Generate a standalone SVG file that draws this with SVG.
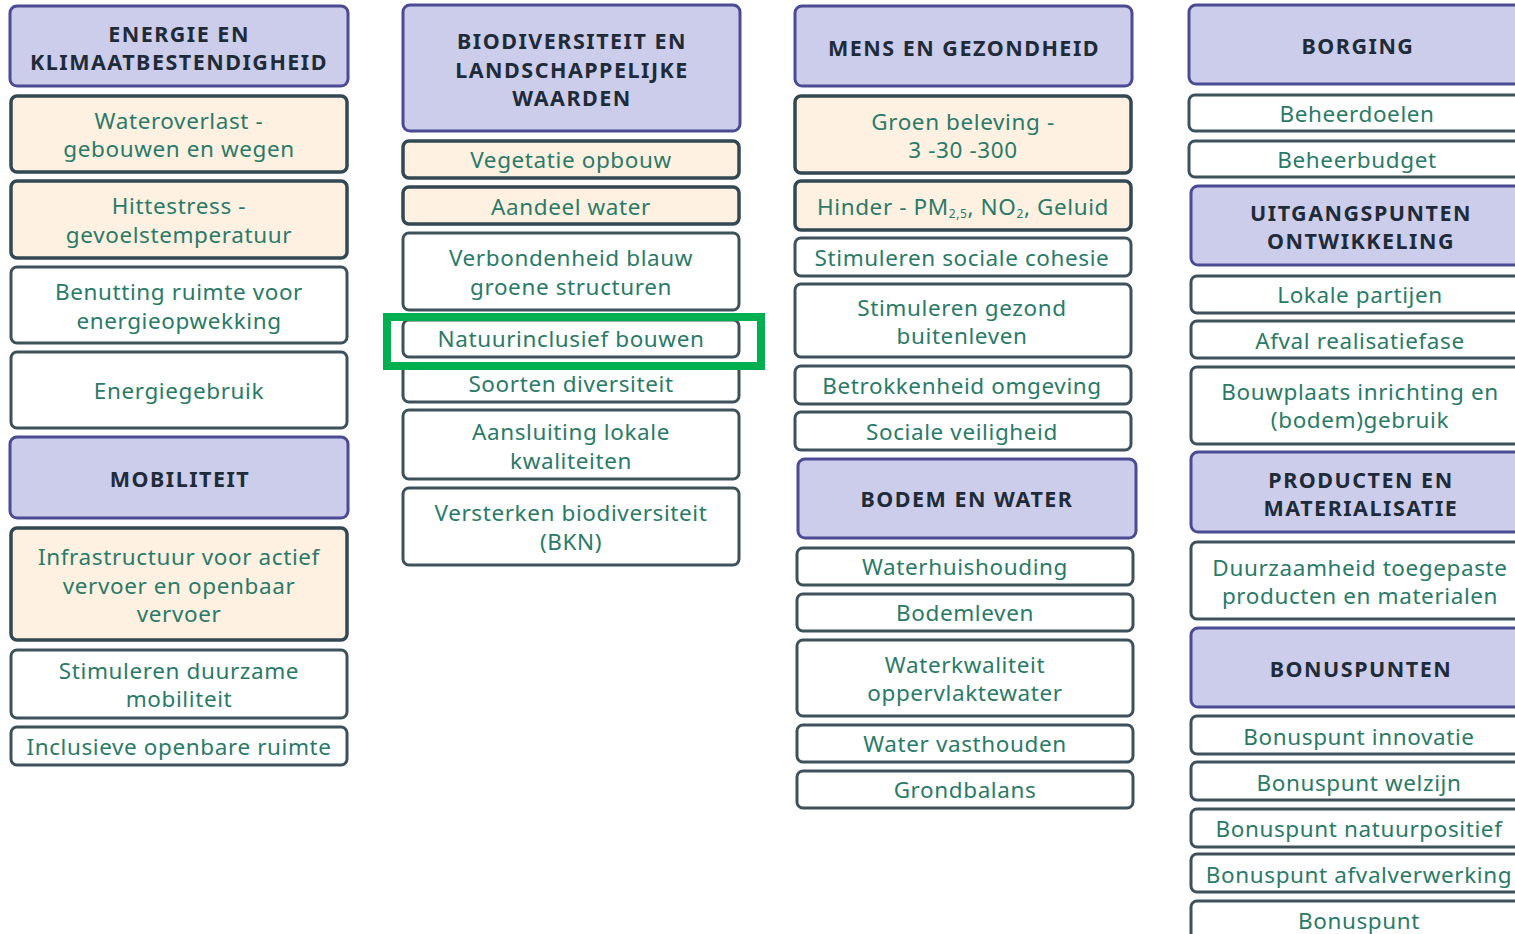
<svg xmlns="http://www.w3.org/2000/svg" width="1515" height="934" viewBox="0 0 1515 934">
<style>
rect.h{fill:#cbcdeb;stroke:#4a4b93;stroke-width:3}
rect.o{fill:#fff1e1;stroke:#334852;stroke-width:3.5}
rect.w{fill:#ffffff;stroke:#3d515b;stroke-width:3}
text{font-family:"Noto Sans","Open Sans",sans-serif;text-anchor:middle;dominant-baseline:central}
text.ht{font-size:21.5px;font-weight:bold;fill:#1f2b38;letter-spacing:1.5px}
text.t{font-size:22.5px;fill:#2b7a68;letter-spacing:0.6px}
</style>
<rect width="1515" height="934" fill="#ffffff"/>
<g id="col1">
<g id="n-energie"><rect class="h" x="10" y="6" width="338" height="80" rx="7"/><text class="ht" x="179" y="33">ENERGIE EN</text><text class="ht" x="179" y="61">KLIMAATBESTENDIGHEID</text></g>
<g id="n-wateroverlast"><rect class="o" x="11" y="96" width="336" height="76" rx="6"/><text class="t" x="179" y="120">Wateroverlast -</text><text class="t" x="179" y="148">gebouwen en wegen</text></g>
<g id="n-hittestress"><rect class="o" x="11" y="181" width="336" height="77" rx="6"/><text class="t" x="179" y="205">Hittestress -</text><text class="t" x="179" y="234">gevoelstemperatuur</text></g>
<g id="n-benutting"><rect class="w" x="11" y="267" width="336" height="76" rx="6"/><text class="t" x="179" y="291">Benutting ruimte voor</text><text class="t" x="179" y="320">energieopwekking</text></g>
<g id="n-energiegebruik"><rect class="w" x="11" y="352" width="336" height="76" rx="6"/><text class="t" x="179" y="390">Energiegebruik</text></g>
<g id="n-mobiliteit"><rect class="h" x="10" y="437" width="338" height="81" rx="7"/><text class="ht" x="180" y="478">MOBILITEIT</text></g>
<g id="n-infrastructuur"><rect class="o" x="11" y="528" width="336" height="112" rx="6"/><text class="t" x="179" y="556">Infrastructuur voor actief</text><text class="t" x="179" y="585">vervoer en openbaar</text><text class="t" x="179" y="613">vervoer</text></g>
<g id="n-duurzame-mobiliteit"><rect class="w" x="11" y="650" width="336" height="68" rx="6"/><text class="t" x="179" y="670">Stimuleren duurzame</text><text class="t" x="179" y="698">mobiliteit</text></g>
<g id="n-inclusieve"><rect class="w" x="11" y="727" width="336" height="38" rx="6"/><text class="t" x="179" y="746">Inclusieve openbare ruimte</text></g>
</g>
<g id="col2">
<g id="n-biodiversiteit"><rect class="h" x="403" y="5" width="337" height="126" rx="7"/><text class="ht" x="572" y="40">BIODIVERSITEIT EN</text><text class="ht" x="572" y="69">LANDSCHAPPELIJKE</text><text class="ht" x="572" y="97">WAARDEN</text></g>
<g id="n-vegetatie"><rect class="o" x="403" y="141" width="336" height="37" rx="6"/><text class="t" x="571" y="159">Vegetatie opbouw</text></g>
<g id="n-aandeel-water"><rect class="o" x="403" y="187" width="336" height="37" rx="6"/><text class="t" x="571" y="206">Aandeel water</text></g>
<g id="n-verbondenheid"><rect class="w" x="403" y="233" width="336" height="77" rx="6"/><text class="t" x="571" y="257">Verbondenheid blauw</text><text class="t" x="571" y="286">groene structuren</text></g>
<g id="n-natuurinclusief"><rect class="w" x="403" y="320" width="336" height="37" rx="6"/><text class="t" x="571" y="338">Natuurinclusief bouwen</text></g>
<g id="n-soorten"><rect class="w" x="403" y="365" width="336" height="37" rx="6"/><text class="t" x="571" y="383">Soorten diversiteit</text></g>
<g id="n-aansluiting"><rect class="w" x="403" y="410" width="336" height="69" rx="6"/><text class="t" x="571" y="431">Aansluiting lokale</text><text class="t" x="571" y="460">kwaliteiten</text></g>
<g id="n-versterken"><rect class="w" x="403" y="488" width="336" height="77" rx="6"/><text class="t" x="571" y="512">Versterken biodiversiteit</text><text class="t" x="571" y="541">(BKN)</text></g>
</g>
<g id="col3">
<g id="n-mens"><rect class="h" x="795" y="6" width="337" height="80" rx="7"/><text class="ht" x="964" y="47">MENS EN GEZONDHEID</text></g>
<g id="n-groen-beleving"><rect class="o" x="795" y="96" width="336" height="77" rx="6"/><text class="t" x="963" y="121">Groen beleving -</text><text class="t" x="963" y="149">3 -30 -300</text></g>
<g id="n-hinder"><rect class="o" x="795" y="181" width="336" height="49" rx="6"/><text class="t" x="963" y="206">Hinder - PM<tspan font-size="12" dy="7">2,5</tspan><tspan dy="-7">, NO</tspan><tspan font-size="12" dy="7">2</tspan><tspan dy="-7">, Geluid</tspan></text></g>
<g id="n-sociale-cohesie"><rect class="w" x="795" y="238" width="336" height="38" rx="6"/><text class="t" x="962" y="257">Stimuleren sociale cohesie</text></g>
<g id="n-gezond-buitenleven"><rect class="w" x="795" y="284" width="336" height="73" rx="6"/><text class="t" x="962" y="307">Stimuleren gezond</text><text class="t" x="962" y="335">buitenleven</text></g>
<g id="n-betrokkenheid"><rect class="w" x="795" y="366" width="336" height="38" rx="6"/><text class="t" x="962" y="385">Betrokkenheid omgeving</text></g>
<g id="n-sociale-veiligheid"><rect class="w" x="795" y="412" width="336" height="38" rx="6"/><text class="t" x="962" y="431">Sociale veiligheid</text></g>
<g id="n-bodem"><rect class="h" x="798" y="459" width="338" height="79" rx="7"/><text class="ht" x="967" y="498">BODEM EN WATER</text></g>
<g id="n-waterhuishouding"><rect class="w" x="797" y="548" width="336" height="37" rx="6"/><text class="t" x="965" y="566">Waterhuishouding</text></g>
<g id="n-bodemleven"><rect class="w" x="797" y="594" width="336" height="37" rx="6"/><text class="t" x="965" y="612">Bodemleven</text></g>
<g id="n-waterkwaliteit"><rect class="w" x="797" y="640" width="336" height="76" rx="6"/><text class="t" x="965" y="664">Waterkwaliteit</text><text class="t" x="965" y="692">oppervlaktewater</text></g>
<g id="n-water-vasthouden"><rect class="w" x="797" y="725" width="336" height="37" rx="6"/><text class="t" x="965" y="743">Water vasthouden</text></g>
<g id="n-grondbalans"><rect class="w" x="797" y="771" width="336" height="37" rx="6"/><text class="t" x="965" y="789">Grondbalans</text></g>
</g>
<g id="col4">
<g id="n-borging"><rect class="h" x="1189" y="5" width="345" height="79" rx="7"/><text class="ht" x="1358" y="45">BORGING</text></g>
<g id="n-beheerdoelen"><rect class="w" x="1189" y="95" width="345" height="36" rx="6"/><text class="t" x="1357" y="113">Beheerdoelen</text></g>
<g id="n-beheerbudget"><rect class="w" x="1189" y="141" width="345" height="36" rx="6"/><text class="t" x="1357" y="159">Beheerbudget</text></g>
<g id="n-uitgangspunten"><rect class="h" x="1191" y="186" width="345" height="79" rx="7"/><text class="ht" x="1361" y="212">UITGANGSPUNTEN</text><text class="ht" x="1361" y="240">ONTWIKKELING</text></g>
<g id="n-lokale-partijen"><rect class="w" x="1191" y="276" width="345" height="37" rx="6"/><text class="t" x="1360" y="294">Lokale partijen</text></g>
<g id="n-afval-realisatiefase"><rect class="w" x="1191" y="321" width="345" height="37" rx="6"/><text class="t" x="1360" y="340">Afval realisatiefase</text></g>
<g id="n-bouwplaats"><rect class="w" x="1191" y="367" width="345" height="77" rx="6"/><text class="t" x="1360" y="391">Bouwplaats inrichting en</text><text class="t" x="1360" y="419">(bodem)gebruik</text></g>
<g id="n-producten"><rect class="h" x="1191" y="452" width="345" height="80" rx="7"/><text class="ht" x="1361" y="479">PRODUCTEN EN</text><text class="ht" x="1361" y="507">MATERIALISATIE</text></g>
<g id="n-duurzaamheid"><rect class="w" x="1191" y="542" width="345" height="77" rx="6"/><text class="t" x="1360" y="567">Duurzaamheid toegepaste</text><text class="t" x="1360" y="595">producten en materialen</text></g>
<g id="n-bonuspunten"><rect class="h" x="1191" y="628" width="345" height="79" rx="7"/><text class="ht" x="1361" y="668">BONUSPUNTEN</text></g>
<g id="n-bonus-innovatie"><rect class="w" x="1191" y="716" width="345" height="38" rx="6"/><text class="t" x="1359" y="736">Bonuspunt innovatie</text></g>
<g id="n-bonus-welzijn"><rect class="w" x="1191" y="762" width="345" height="38" rx="6"/><text class="t" x="1359" y="782">Bonuspunt welzijn</text></g>
<g id="n-bonus-natuurpositief"><rect class="w" x="1191" y="809" width="345" height="38" rx="6"/><text class="t" x="1359" y="828">Bonuspunt natuurpositief</text></g>
<g id="n-bonus-afvalverwerking"><rect class="w" x="1191" y="854" width="345" height="38" rx="6"/><text class="t" x="1359" y="874">Bonuspunt afvalverwerking</text></g>
<g id="n-bonus"><rect class="w" x="1191" y="901" width="345" height="60" rx="6"/><text class="t" x="1359" y="920">Bonuspunt</text></g>
</g>
<g id="connectors"></g>
<g id="highlight"><rect x="387" y="317" width="374" height="49" fill="none" stroke="#00b050" stroke-width="8"/></g>
</svg>
